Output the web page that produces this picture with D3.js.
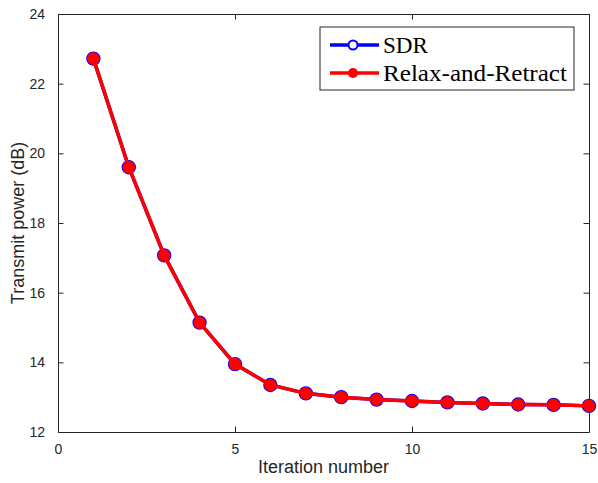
<!DOCTYPE html>
<html>
<head>
<meta charset="utf-8">
<script src="https://cdn.jsdelivr.net/npm/d3@7"></script>
<style>
    body { margin: 0; background: #fff; }
    svg { display: block; }
    .axis text { font-family: 'Liberation Sans', Arial, sans-serif; font-size: 14px; fill: #262626; }
    .axis path, .axis line { stroke: #262626; }
</style>
</head>
<body>
<div class="chart"></div>
<script>
// Data
const iterations = [1, 2, 3, 4, 5, 6, 7, 8, 9, 10, 11, 12, 13, 14, 15];
const sdrPower = [22.72, 19.6, 17.07, 15.14, 13.95, 13.35, 13.11, 13.0, 12.93, 12.89, 12.85, 12.82, 12.79, 12.78, 12.75];
const rrPower = [22.72, 19.6, 17.07, 15.14, 13.95, 13.35, 13.11, 13.0, 12.93, 12.89, 12.85, 12.82, 12.79, 12.78, 12.75];
const xTicks = [0, 5, 10, 15];
const yTicks = [12, 14, 16, 18, 20, 22, 24];
const seriesNames = ['SDR', 'Relax-and-Retract'];

const svgWidth = 598;
const svgHeight = 483;
const margin = { top: 14, right: 9, bottom: 51, left: 58 };
const width = svgWidth - margin.left - margin.right;
const height = svgHeight - margin.top - margin.bottom;

const svg = d3.select('.chart')
    .append('svg')
    .attr('width', svgWidth)
    .attr('height', svgHeight);

const g = svg.append('g')
    .attr('transform', 'translate(' + margin.left + ',' + margin.top + ')');

// Scales
const xScale = d3.scaleLinear().domain([0, 15]).range([0, width]);
const yScale = d3.scaleLinear().domain([12, 24]).range([height, 0]);

// Axes (ticks point inward, mirrored on top/right like a boxed MATLAB plot)
const tickLen = 5.5;
const xAxis = d3.axisBottom(xScale).tickValues(xTicks).tickSizeInner(-tickLen).tickSizeOuter(0).tickPadding(12);
const yAxis = d3.axisLeft(yScale).tickValues(yTicks).tickSizeInner(-tickLen).tickSizeOuter(0).tickPadding(13);

g.append('g').attr('class', 'axis').attr('transform', 'translate(0,' + height + ')').call(xAxis);
g.append('g').attr('class', 'axis').call(yAxis);
g.append('g').attr('class', 'axis')
    .call(d3.axisTop(xScale).tickValues(xTicks).tickSizeInner(-tickLen).tickSizeOuter(0).tickFormat(''));
g.append('g').attr('class', 'axis').attr('transform', 'translate(' + width + ',0)')
    .call(d3.axisRight(yScale).tickValues(yTicks).tickSizeInner(-tickLen).tickSizeOuter(0).tickFormat(''));

// Axis labels
svg.append('text')
    .attr('x', margin.left + width / 2)
    .attr('y', 473)
    .attr('text-anchor', 'middle')
    .style('font-family', "'Liberation Sans', Arial, sans-serif")
    .style('font-size', '18px')
    .style('fill', '#262626')
    .text('Iteration number');

svg.append('text')
    .attr('transform', 'translate(24,' + (margin.top + height / 2) + ') rotate(-90)')
    .attr('text-anchor', 'middle')
    .style('font-family', "'Liberation Sans', Arial, sans-serif")
    .style('font-size', '18px')
    .style('fill', '#262626')
    .text('Transmit power (dB)');

// Lines
const sdrData = iterations.map((d, i) => ({ x: d, y: sdrPower[i] }));
const rrData = iterations.map((d, i) => ({ x: d, y: rrPower[i] }));
const line = d3.line().x(d => xScale(d.x)).y(d => yScale(d.y));

g.append('path').datum(sdrData)
    .attr('d', line)
    .attr('fill', 'none')
    .attr('stroke', '#0000ff')
    .attr('stroke-width', 3.5);

g.selectAll('.sdr-dot').data(sdrData).enter()
    .append('circle')
    .attr('class', 'sdr-dot')
    .attr('cx', d => xScale(d.x))
    .attr('cy', d => yScale(d.y))
    .attr('r', 6.3)
    .attr('fill', 'none')
    .attr('stroke', '#0000ff')
    .attr('stroke-width', 1.8);

g.append('path').datum(rrData)
    .attr('d', line)
    .attr('fill', 'none')
    .attr('stroke', '#ff0000')
    .attr('stroke-width', 3.5);

g.selectAll('.rr-dot').data(rrData).enter()
    .append('circle')
    .attr('class', 'rr-dot')
    .attr('cx', d => xScale(d.x))
    .attr('cy', d => yScale(d.y))
    .attr('r', 6.3)
    .attr('fill', '#ff0000');

// Legend
const legend = svg.append('g').attr('transform', 'translate(320,27)');
legend.append('rect')
    .attr('width', 254)
    .attr('height', 63)
    .attr('fill', '#fff')
    .attr('stroke', '#262626')
    .attr('stroke-width', 1);

const legendRows = [
    { name: seriesNames[0], color: '#0000ff', y: 18, len: 45 },
    { name: seriesNames[1], color: '#ff0000', y: 46, len: 184 }
];
legendRows.forEach((row, i) => {
    legend.append('line')
        .attr('x1', 10).attr('x2', 59)
        .attr('y1', row.y).attr('y2', row.y)
        .attr('stroke', row.color)
        .attr('stroke-width', 3.5);
    if (i === 0) {
        legend.append('circle')
            .attr('cx', 33).attr('cy', row.y).attr('r', 4.5)
            .attr('fill', '#fff')
            .attr('stroke', row.color)
            .attr('stroke-width', 2);
    } else {
        legend.append('circle')
            .attr('cx', 33).attr('cy', row.y).attr('r', 5)
            .attr('fill', row.color);
    }
    legend.append('text')
        .attr('x', 63)
        .attr('y', row.y + 8)
        .attr('textLength', row.len)
        .attr('lengthAdjust', 'spacingAndGlyphs')
        .style('font-family', "'Liberation Serif', 'Times New Roman', serif")
        .style('font-size', '23px')
        .style('fill', '#000')
        .text(row.name);
});
</script>
</body>
</html>
